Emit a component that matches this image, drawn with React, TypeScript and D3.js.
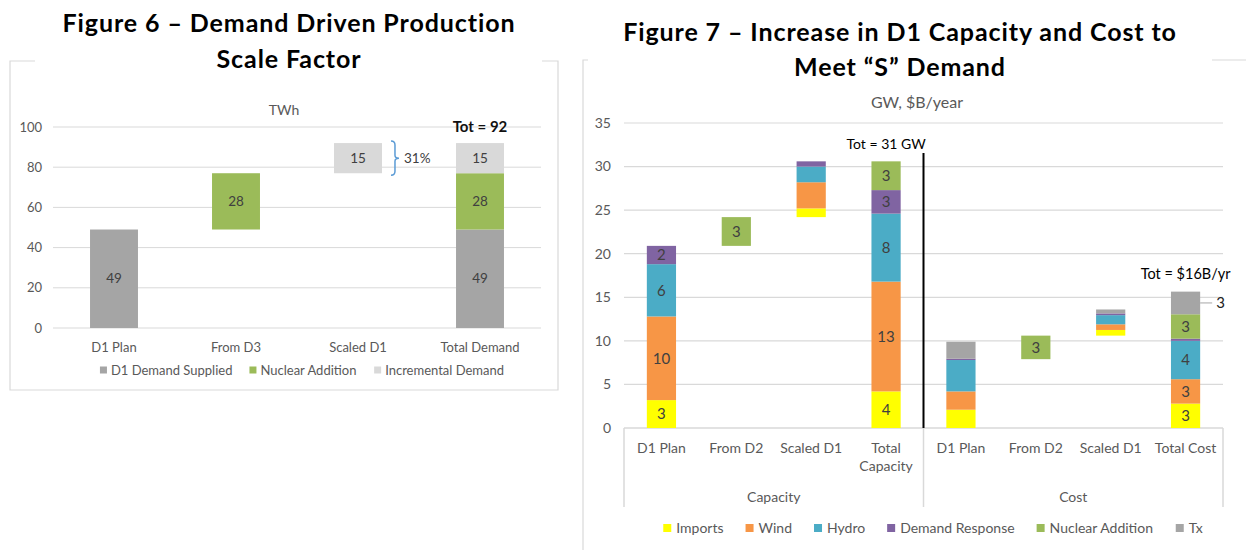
import React from "react";
import * as d3 from "d3";

// ---------- Figure 6 data (TWh) ----------
const leftCategories = ["D1 Plan", "From D3", "Scaled D1", "Total Demand"];
const leftSeries = ["D1 Demand Supplied", "Nuclear Addition", "Incremental Demand"];
const leftBase = [0, 49, 77, 0];
const d1Supplied = [49, 0, 0, 49];
const nuclearAddition = [0, 28, 0, 28];
const incrementalDemand = [0, 0, 15, 15];
const leftTicks = [0, 20, 40, 60, 80, 100];

// ---------- Figure 7 data (GW, $B/year) ----------
const groups = ["Capacity", "Cost"];
const capCategories = ["D1 Plan", "From D2", "Scaled D1", "Total Capacity"];
const costCategories = ["D1 Plan", "From D2", "Scaled D1", "Total Cost"];
const rightSeries = ["Imports", "Wind", "Hydro", "Demand Response", "Nuclear Addition", "Tx"];
const rightBase = [0, 20.9, 24.2, 0, 0, 7.9, 10.6, 0];
const imports = [3.2, 0, 1.0, 4.2, 2.1, 0, 0.65, 2.8];
const wind = [9.6, 0, 3.0, 12.6, 2.1, 0, 0.65, 2.8];
const hydro = [6.0, 0, 1.8, 7.8, 3.6, 0, 1.05, 4.4];
const demandResponse = [2.1, 0, 0.6, 2.7, 0.15, 0, 0.2, 0.25];
const nuclear = [0, 3.3, 0, 3.3, 0, 2.7, 0, 2.8];
const tx = [0, 0, 0, 0, 1.95, 0, 0.45, 2.6];
const rightLabeled = [true, true, false, true, false, true, false, true];
const rightTicks = [0, 5, 10, 15, 20, 25, 30, 35];

const leftColors: Record<string, string> = {
  "D1 Demand Supplied": "#a5a5a5",
  "Nuclear Addition": "#9bbb59",
  "Incremental Demand": "#d9d9d9",
};
const rightColors: Record<string, string> = {
  Imports: "#ffff00",
  Wind: "#f79646",
  Hydro: "#4bacc6",
  "Demand Response": "#8064a2",
  "Nuclear Addition": "#9bbb59",
  Tx: "#a5a5a5",
};

const FONT = "Lato, sans-serif";
const GRID = "#d9d9d9";
const AXIS_TEXT = "#595959";
const VALUE_TEXT = "#404040";
const fmt0 = d3.format(".0f");

let ctx: CanvasRenderingContext2D | null = null;
function textWidth(text: string, size: number, weight = "normal") {
  if (!ctx) ctx = document.createElement("canvas").getContext("2d");
  if (!ctx) return text.length * size * 0.5;
  ctx.font = `${weight} ${size}px ${FONT}`;
  return ctx.measureText(text).width;
}

function Title({ x, y, children }: any) {
  return (
    <text x={x} y={y} textAnchor="middle" fontSize={25} fontWeight="bold" letterSpacing={0.9} fill="#000">
      {children}
    </text>
  );
}

function Legend({ items, colors, cx, cy, size, swatch, gap, spacing }: any) {
  const widths = items.map((t: string) => swatch + gap + textWidth(t, size));
  const total = d3.sum(widths) + spacing * (items.length - 1);
  let x = cx - total / 2;
  return (
    <g>
      {items.map((t: string, i: number) => {
        const x0 = x;
        x += widths[i] + spacing;
        return (
          <g key={t}>
            <rect x={x0} y={cy - swatch / 2} width={swatch} height={swatch} fill={colors[t]} />
            <text x={x0 + swatch + gap} y={cy} dy="0.35em" fontSize={size} fill={AXIS_TEXT}>
              {t}
            </text>
          </g>
        );
      })}
    </g>
  );
}

function Figure6() {
  const x = d3.scaleBand<string>().domain(leftCategories).range([53, 541]).paddingInner(0.607).paddingOuter(0.3035);
  const y = d3.scaleLinear().domain([0, 100]).range([328, 127]);
  const rows = leftCategories.map((c, i) => ({
    cat: c,
    base: leftBase[i],
    "D1 Demand Supplied": d1Supplied[i],
    "Nuclear Addition": nuclearAddition[i],
    "Incremental Demand": incrementalDemand[i],
  }));
  const stack = d3.stack<any>().keys(["base", ...leftSeries])(rows);
  const total = d1Supplied[3] + nuclearAddition[3] + incrementalDemand[3];
  const pct = d3.format(".0%")(incrementalDemand[2] / d1Supplied[0]);
  const bx = (x("Scaled D1") as number) + x.bandwidth() + 9;
  const bTop = y(leftBase[2] + incrementalDemand[2]) - 2;
  const bBot = y(leftBase[2]) + 2;
  const bMid = (bTop + bBot) / 2;

  return (
    <g>
      <Title x={289} y={32}>Figure 6 – Demand Driven Production</Title>
      <path d="M35,61 H10 V390 H558 V61 H542" fill="none" stroke={GRID} strokeWidth={1.2} />
      <Title x={289} y={68}>Scale Factor</Title>
      <text x={284} y={110} textAnchor="middle" dy="0.35em" fontSize={14} fill={AXIS_TEXT}>
        TWh
      </text>
      {leftTicks.map((t) => (
        <g key={t}>
          <line x1={53} x2={541} y1={y(t)} y2={y(t)} stroke={GRID} strokeWidth={1} />
          <text x={42} y={y(t)} dy="0.35em" textAnchor="end" fontSize={13} fill={AXIS_TEXT}>
            {t}
          </text>
        </g>
      ))}
      {stack.slice(1).map((layer) =>
        layer.map((d, i) => {
          const v = d[1] - d[0];
          if (v <= 0) return null;
          const xx = x(leftCategories[i]) as number;
          return (
            <g key={layer.key + i}>
              <rect x={xx} y={y(d[1])} width={x.bandwidth()} height={y(d[0]) - y(d[1])} fill={leftColors[layer.key]} />
              <text x={xx + x.bandwidth() / 2} y={y((d[0] + d[1]) / 2)} dy="0.35em" textAnchor="middle" fontSize={13.5} fill={VALUE_TEXT}>
                {fmt0(v)}
              </text>
            </g>
          );
        })
      )}
      <text x={(x("Total Demand") as number) + x.bandwidth() / 2} y={y(100)} dy="0.35em" textAnchor="middle" fontSize={15} fontWeight="bold" fill="#111">
        {`Tot = ${fmt0(total)}`}
      </text>
      <path
        d={`M${bx},${bTop} Q${bx + 4},${bTop} ${bx + 4},${bTop + 4} L${bx + 4},${bMid - 3} Q${bx + 4},${bMid} ${bx + 8},${bMid} Q${bx + 4},${bMid} ${bx + 4},${bMid + 3} L${bx + 4},${bBot - 4} Q${bx + 4},${bBot} ${bx},${bBot}`}
        fill="none"
        stroke="#5b9bd5"
        strokeWidth={1.5}
      />
      <text x={bx + 13} y={bMid} dy="0.35em" fontSize={13.5} fill={VALUE_TEXT}>
        {pct}
      </text>
      {leftCategories.map((c) => (
        <text key={c} x={(x(c) as number) + x.bandwidth() / 2} y={347} dy="0.35em" textAnchor="middle" fontSize={13} fill={AXIS_TEXT}>
          {c}
        </text>
      ))}
      <Legend items={leftSeries} colors={leftColors} cx={302} cy={370} size={13} swatch={7} gap={4} spacing={17} />
    </g>
  );
}

function Figure7() {
  const ids = d3.range(8);
  const labels = [...capCategories, ...costCategories];
  const x = d3.scaleBand<number>().domain(ids).range([624, 1223]).paddingInner(0.61).paddingOuter(0.305);
  const y = d3.scaleLinear().domain([0, 35]).range([428, 123]);
  const rows = ids.map((i) => ({
    base: rightBase[i],
    Imports: imports[i],
    Wind: wind[i],
    Hydro: hydro[i],
    "Demand Response": demandResponse[i],
    "Nuclear Addition": nuclear[i],
    Tx: tx[i],
  }));
  const stack = d3.stack<any>().keys(["base", ...rightSeries])(rows);
  const totalCap = imports[3] + wind[3] + hydro[3] + demandResponse[3] + nuclear[3] + tx[3];
  const totalCost = imports[7] + wind[7] + hydro[7] + demandResponse[7] + nuclear[7] + tx[7];
  const cx = (i: number) => (x(i) as number) + x.bandwidth() / 2;
  const divider = (x.range()[0] + x.range()[1]) / 2;

  return (
    <g>
      <path d="M588,60 H583 V550 M1212,60 H1246" fill="none" stroke={GRID} strokeWidth={1.2} />
      <Title x={900} y={41}>Figure 7 – Increase in D1 Capacity and Cost to</Title>
      <Title x={900} y={76}>Meet “S” Demand</Title>
      <text x={917} y={102} dy="0.35em" textAnchor="middle" fontSize={16} fill={AXIS_TEXT}>
        GW, $B/year
      </text>
      {rightTicks.map((t) => (
        <g key={t}>
          <line x1={624} x2={1223} y1={y(t)} y2={y(t)} stroke={GRID} strokeWidth={t === 0 ? 1.5 : 1.2} />
          <text x={611} y={y(t)} dy="0.35em" textAnchor="end" fontSize={14} fill={AXIS_TEXT}>
            {t}
          </text>
        </g>
      ))}
      {[624, divider, 1223].map((v) => (
        <line key={v} x1={v} x2={v} y1={y(0)} y2={507} stroke={GRID} strokeWidth={1.5} />
      ))}
      {stack.slice(1).map((layer) =>
        layer.map((d, i) => {
          const v = d[1] - d[0];
          if (v <= 0) return null;
          return (
            <rect key={layer.key + i} x={x(i)} y={y(d[1])} width={x.bandwidth()} height={y(d[0]) - y(d[1])} fill={rightColors[layer.key]} />
          );
        })
      )}
      {stack.slice(1).map((layer) =>
        layer.map((d, i) => {
          const v = d[1] - d[0];
          if (!rightLabeled[i] || v < 1) return null;
          const ym = y((d[0] + d[1]) / 2);
          if (layer.key === "Tx") {
            const x1 = (x(i) as number) + x.bandwidth();
            return (
              <g key={"l" + layer.key + i}>
                <line x1={x1} x2={x1 + 12} y1={ym} y2={ym} stroke="#a6a6a6" strokeWidth={1} />
                <text x={x1 + 16} y={ym} dy="0.35em" fontSize={15} fill="#222">
                  {fmt0(v)}
                </text>
              </g>
            );
          }
          return (
            <text key={"l" + layer.key + i} x={cx(i)} y={ym} dy="0.35em" textAnchor="middle" fontSize={15} fill={VALUE_TEXT}>
              {fmt0(v)}
            </text>
          );
        })
      )}
      <line x1={divider} x2={divider} y1={153} y2={y(0)} stroke="#000" strokeWidth={2} />
      <text x={cx(3)} y={144} dy="0.35em" textAnchor="middle" fontSize={14} fill="#000">
        {`Tot = ${fmt0(totalCap)} GW`}
      </text>
      <text x={cx(7)} y={274} dy="0.35em" textAnchor="middle" fontSize={14.5} fill="#000">
        {`Tot = $${fmt0(totalCost)}B/yr`}
      </text>
      {labels.map((c, i) => {
        const parts = c === "Total Capacity" ? ["Total", "Capacity"] : [c];
        return (
          <text key={i} x={cx(i)} y={448} textAnchor="middle" fontSize={14} fill={AXIS_TEXT}>
            {parts.map((p, j) => (
              <tspan key={j} x={cx(i)} dy={j === 0 ? "0.35em" : "1.3em"}>
                {p}
              </tspan>
            ))}
          </text>
        );
      })}
      {groups.map((g, k) => (
        <text key={g} x={k === 0 ? (624 + divider) / 2 : (divider + 1223) / 2} y={497} dy="0.35em" textAnchor="middle" fontSize={14} fill={AXIS_TEXT}>
          {g}
        </text>
      ))}
      <Legend items={rightSeries} colors={rightColors} cx={933} cy={528} size={14} swatch={8} gap={5} spacing={22} />
    </g>
  );
}

export default function App() {
  return (
    <svg width={1246} height={550} fontFamily={FONT} style={{ position: "absolute", left: 0, top: 0, background: "#fff" }}>
      <rect width={1246} height={550} fill="#fff" />
      <Figure6 />
      <Figure7 />
    </svg>
  );
}
